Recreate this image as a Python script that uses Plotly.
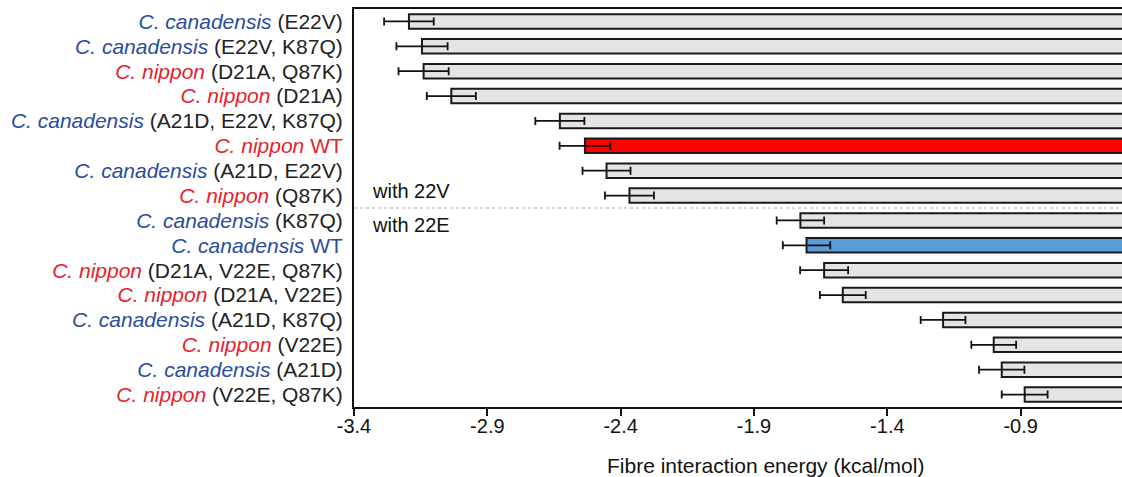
import plotly.graph_objects as go

BLUE = "#2b4c9f"
RED = "#e8212b"

species = ["can", "can", "nip", "nip", "can", "nip", "can", "nip",
           "can", "can", "nip", "nip", "can", "nip", "can", "nip"]
mutations = ["(E22V)", "(E22V, K87Q)", "(D21A, Q87K)", "(D21A)", "(A21D, E22V, K87Q)", "WT",
             "(A21D, E22V)", "(Q87K)", "(K87Q)", "WT", "(D21A, V22E, Q87K)", "(D21A, V22E)",
             "(A21D, K87Q)", "(V22E)", "(A21D)", "(V22E, Q87K)"]
energy = [-3.194, -3.145, -3.139, -3.035, -2.628, -2.534, -2.453, -2.367,
          -1.726, -1.703, -1.637, -1.567, -1.191, -1.001, -0.971, -0.885]
error = [0.093, 0.096, 0.094, 0.092, 0.092, 0.095, 0.090, 0.092,
         0.089, 0.089, 0.090, 0.086, 0.084, 0.084, 0.085, 0.086]
x_ticks = [-3.4, -2.9, -2.4, -1.9, -1.4, -0.9]

def label(sp, mut):
    name = "C. canadensis" if sp == "can" else "C. nippon"
    col = BLUE if sp == "can" else RED
    if mut == "WT":
        return f"<span style='color:{col}'><i>{name}</i> WT</span>"
    return f"<span style='color:{col}'><i>{name}</i></span> {mut}"

labels = [label(s, m) for s, m in zip(species, mutations)]
ypos = list(range(len(energy)))
colors = []
for s, m in zip(species, mutations):
    if m == "WT":
        colors.append("#ff0000" if s == "nip" else "#5b9bd6")
    else:
        colors.append("#e4e4e4")

FONT = "Liberation Sans, Arial, sans-serif"

fig = go.Figure()
fig.add_trace(go.Bar(
    x=energy, y=ypos, orientation="h", width=0.58,
    marker=dict(color=colors, line=dict(color="#1a1a1a", width=2)),
    error_x=dict(type="data", array=error, visible=True, color="#111111",
                 thickness=1.8, width=4),
    showlegend=False, hoverinfo="skip",
))

fig.add_shape(type="line", xref="paper", yref="y", x0=0, x1=1, y0=7.5, y1=7.5,
              line=dict(color="#aaaaaa", width=1, dash="dot"))
fig.add_annotation(x=-3.34, y=6.8, xref="x", yref="y", text="with 22V", showarrow=False,
                   xanchor="left", yanchor="middle", font=dict(size=20, color="#111111"))
fig.add_annotation(x=-3.34, y=8.2, xref="x", yref="y", text="with 22E", showarrow=False,
                   xanchor="left", yanchor="middle", font=dict(size=20, color="#111111"))
fig.add_annotation(x=0.536, y=-0.146, xref="paper", yref="paper",
                   text="Fibre interaction energy (kcal/mol)", showarrow=False,
                   xanchor="center", yanchor="middle", font=dict(size=21, color="#111111"))

fig.update_layout(
    width=1122, height=477,
    margin=dict(l=354, r=0, t=9, b=70, autoexpand=False),
    paper_bgcolor="white", plot_bgcolor="white",
    font=dict(family=FONT, size=20, color="#222222"),
    bargap=0.4,
)
fig.update_xaxes(
    range=[-3.4, -0.52], tickvals=x_ticks, ticktext=[str(t) for t in x_ticks],
    showline=True, linecolor="#111111", linewidth=2, mirror=True,
    ticks="outside", ticklen=7, tickwidth=1.5, tickcolor="#111111",
    showgrid=False, zeroline=False, ticklabelstandoff=-7,
    tickfont=dict(size=20, color="#111111"),
)
fig.update_yaxes(
    range=[15.5, -0.5], tickvals=ypos, ticktext=labels,
    showline=True, linecolor="#111111", linewidth=2, mirror=False,
    ticks="", showgrid=False, zeroline=False, ticklabelstandoff=5,
    tickfont=dict(size=21, color="#222222"),
)

fig.write_html("out.html", config={"displayModeBar": False},
               post_script="document.body.style.margin='0';document.body.style.overflow='hidden';")
